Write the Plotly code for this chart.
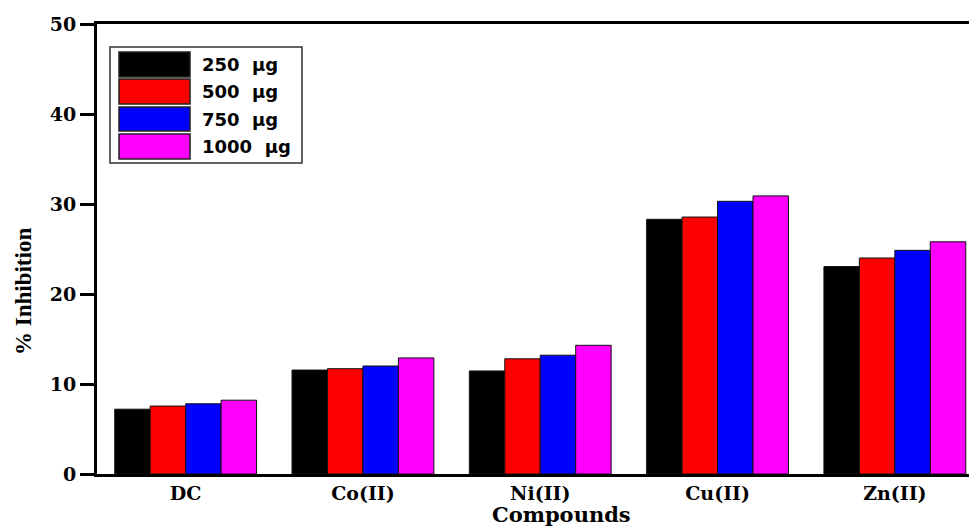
import plotly.graph_objects as go

categories = ["DC", "Co(II)", "Ni(II)", "Cu(II)", "Zn(II)"]
series_names = ["250  µg", "500  µg", "750  µg", "1000  µg"]
colors = ["#000000", "#FF0000", "#0000FF", "#FF00FF"]
v250 = [7.2, 11.55, 11.45, 28.3, 23.05]
v500 = [7.55, 11.7, 12.8, 28.55, 24.0]
v750 = [7.8, 12.0, 13.2, 30.3, 24.85]
v1000 = [8.2, 12.9, 14.3, 30.9, 25.8]
values = [v250, v500, v750, v1000]
y_ticks = [0, 10, 20, 30, 40, 50]

W, H = 969, 528
L, R, T, B = 97, 0, 24, 54
pw, ph = W - L - R, H - T - B

def px(x):
    return (x - L) / pw

def py(y):
    return (H - B - y) / ph

fig = go.Figure()
for name, col, vals in zip(series_names, colors, values):
    fig.add_trace(go.Bar(
        x=categories, y=vals, name=name,
        marker=dict(color=col, line=dict(color="#111111", width=1)),
        showlegend=False,
    ))

tickfont = dict(family="DejaVu Serif", size=19, color="#000000", weight="bold")

fig.update_layout(
    width=W, height=H,
    margin=dict(l=L, r=R, t=T, b=B, pad=0),
    paper_bgcolor="white", plot_bgcolor="white",
    barmode="group", bargap=0.2, bargroupgap=0,
    xaxis=dict(
        range=[-0.5, -0.5 + 5 * pw / 886.5],
        showline=True, linecolor="#000000", linewidth=3, mirror=True,
        ticks="", showgrid=False, zeroline=False,
        tickfont=tickfont,
    ),
    yaxis=dict(
        range=[0, 50], tickvals=y_ticks,
        showline=True, linecolor="#000000", linewidth=3,
        ticks="outside", ticklen=14, tickwidth=3, tickcolor="#000000",
        showgrid=False, zeroline=False,
        tickfont=tickfont,
    ),
    font=dict(family="DejaVu Serif", color="#000000"),
)

# Axis titles
fig.add_annotation(
    text="<b>Compounds</b>", xref="paper", yref="paper",
    x=px(561), y=py(514), xanchor="center", yanchor="middle",
    showarrow=False, font=dict(family="DejaVu Serif", size=21, color="#000000"),
)
fig.add_annotation(
    text="<b>% Inhibition</b>", xref="paper", yref="paper",
    x=px(23), y=py(292), xanchor="center", yanchor="middle", textangle=-90,
    showarrow=False, font=dict(family="Liberation Serif", size=23, color="#000000"),
)

# Custom legend with large swatches
fig.add_shape(type="rect", xref="paper", yref="paper",
              x0=px(110), x1=px(302), y0=py(163), y1=py(47),
              line=dict(color="#333333", width=1.5), fillcolor="white", layer="above")
rows = [(52, 77), (79, 104), (107, 131), (134, 159)]
for (y0, y1), name, col in zip(rows, series_names, colors):
    fig.add_shape(type="rect", xref="paper", yref="paper",
                  x0=px(119), x1=px(190), y0=py(y1), y1=py(y0),
                  line=dict(color="#222222", width=1.5), fillcolor=col, layer="above")
    fig.add_annotation(
        text="<b>" + name.replace("  ", "&nbsp;&nbsp;") + "</b>", xref="paper", yref="paper",
        x=px(200), y=py((y0 + y1) / 2), xanchor="left", yanchor="middle",
        showarrow=False, font=dict(family="DejaVu Sans", size=18, color="#000000"),
    )

fig.write_html("out.html")
